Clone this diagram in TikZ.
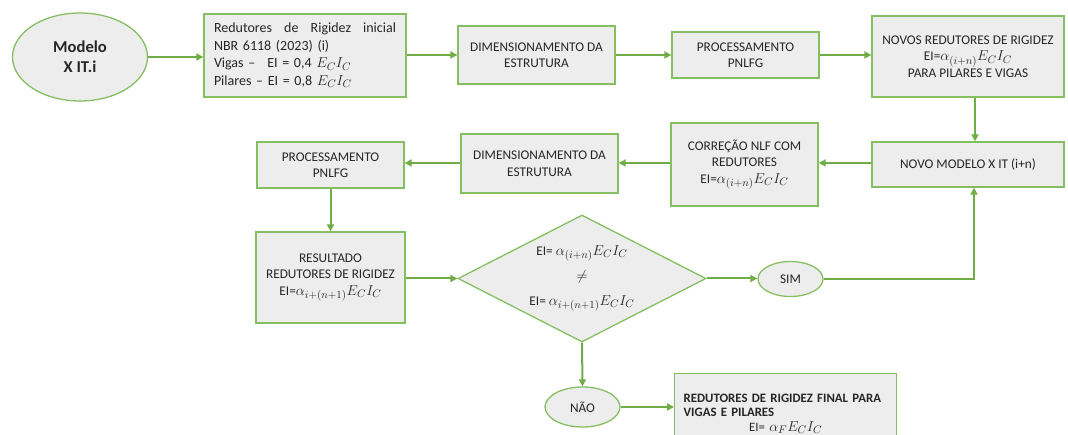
\documentclass[tikz,border=0pt]{standalone}
\usepackage{fontspec}
\setmainfont{Carlito}
\usetikzlibrary{shapes.geometric,arrows.meta}

\definecolor{edge}{HTML}{86BE62}
\definecolor{flow}{HTML}{70AD47}
\definecolor{boxfill}{HTML}{EDEDED}
\definecolor{ink}{HTML}{262626}

% formulas set a little larger than the surrounding text
\newcommand\fml[1]{{\fontsize{15.5}{16}\selectfont$#1$}}

\tikzset{
  flowbox/.style={draw=edge, fill=boxfill, line width=1.3pt, text=ink,
    align=center, inner sep=4pt, font=\fontsize{13.3}{16.5}\selectfont},
  startnode/.style={ellipse, draw=edge, fill=boxfill, line width=1.3pt, text=ink,
    align=center, inner sep=0pt, font=\bfseries\fontsize{16.6}{20}\selectfont},
  answer/.style={ellipse, draw=edge, fill=boxfill, line width=1.3pt, text=ink,
    inner sep=0pt, font=\fontsize{13.3}{16}\selectfont},
  decision/.style={diamond, aspect=2, draw=edge, fill=boxfill, line width=1.3pt,
    text=ink, align=center, inner sep=0pt, font=\fontsize{13.3}{16}\selectfont},
  conn/.style={draw=flow, line width=2pt, -{Triangle[length=7pt,width=7pt]}}
}

\begin{document}
\begin{tikzpicture}[x=1pt,y=-1pt]
\useasboundingbox (0,0) rectangle (1068,435);
\clip (0,0) rectangle (1068,435);
\fill[white] (0,0) rectangle (1068,435);

% first row
\node[startnode, minimum width=135, minimum height=88] (mod) at (80,57) {Modelo\\X IT.i};
\node[flowbox, align=left, text width=182, inner xsep=10pt, minimum height=83,
      font=\fontsize{14}{17.5}\selectfont] (red) at (305,55.5)
  {\hbox to 182pt{Redutores\hfill de\hfill Rigidez\hfill inicial}\\
   NBR 6118 (2023) (i)\\
   Vigas --\hspace{12pt}EI = 0,4 \fml{E_CI_C}\\
   Pilares -- EI = 0,8 \fml{E_CI_C}};
\node[flowbox, minimum width=157, minimum height=58] (dim1) at (536.5,55) {DIMENSIONAMENTO DA\\ESTRUTURA};
\node[flowbox, minimum width=147, minimum height=46] (proc1) at (745.5,55) {PROCESSAMENTO\\PNLFG};
\node[flowbox, minimum width=192, minimum height=81] (novos) at (968,56.5)
  {NOVOS REDUTORES DE RIGIDEZ\\EI=\fml{\alpha_{(i+n)}E_CI_C}\\PARA PILARES E VIGAS};

% second row
\node[flowbox, minimum width=192, minimum height=45] (nm) at (968,164.5) {NOVO MODELO X IT (i+n)};
\node[flowbox, minimum width=147, minimum height=83] (corr) at (744.5,164.5)
  {CORREÇÃO NLF COM\\REDUTORES\\EI=\fml{\alpha_{(i+n)}E_CI_C}};
\node[flowbox, minimum width=157, minimum height=59] (dim2) at (539.5,163.5) {DIMENSIONAMENTO DA\\ESTRUTURA};
\node[flowbox, minimum width=147, minimum height=46] (proc2) at (330.5,165) {PROCESSAMENTO\\PNLFG};

% third row
\node[flowbox, minimum width=149, minimum height=91] (res) at (330.5,277.5)
  {RESULTADO\\REDUTORES DE RIGIDEZ\\EI=\fml{\alpha_{i+(n+1)}E_CI_C}};
\node[decision, minimum width=248, minimum height=127] (dec) at (582,278.5)
  {EI= \fml{\alpha_{(i+n)}E_CI_C}\\[9pt]\fml{\neq}\\[9pt]EI= \fml{\alpha_{i+(n+1)}E_CI_C}};
\node[answer, minimum width=65, minimum height=35] (sim) at (790.5,279) {SIM};

% last row
\node[answer, minimum width=75, minimum height=40] (nao) at (582.5,407) {NÃO};
\node[flowbox, anchor=north west, align=left, text width=204, inner xsep=9pt, inner ysep=20pt,
      font=\bfseries\fontsize{12.8}{14.5}\selectfont] (fin) at (674,373)
  {\mbox{REDUTORES DE RIGIDEZ FINAL PARA}\\VIGAS E PILARES\\
   \makebox[204pt]{\mdseries EI= \fml{\alpha_FE_CI_C}}};

% connectors
\coordinate (vx) at (975,0);
\coordinate (vy) at (974,0);
\draw[conn] (mod.east) -- (mod.east -| red.west);
\draw[conn] (red.east |- dim1.west) -- (dim1.west);
\draw[conn] (dim1.east) -- (proc1.west);
\draw[conn] (proc1.east) -- (proc1.east -| novos.west);
\draw[conn] (novos.south -| vx) -- (nm.north -| vx);
\draw[conn] (nm.west |- 0,163) -- (corr.east |- 0,163);
\draw[conn] (corr.west |- 0,163) -- (dim2.east |- 0,163);
\draw[conn] (dim2.west |- 0,163) -- (proc2.east |- 0,163);
\draw[conn] (proc2.south) -- (res.north);
\draw[conn] (res.east |- dec.west) -- (dec.west);
\draw[conn] (dec.east) -- (sim.west |- dec.east);
\draw[conn] (sim.east) -| (nm.south -| vy);
\draw[conn] (dec.south) -- (nao.north);
\draw[conn] (nao.east) -- (nao.east -| fin.west);
\end{tikzpicture}
\end{document}
